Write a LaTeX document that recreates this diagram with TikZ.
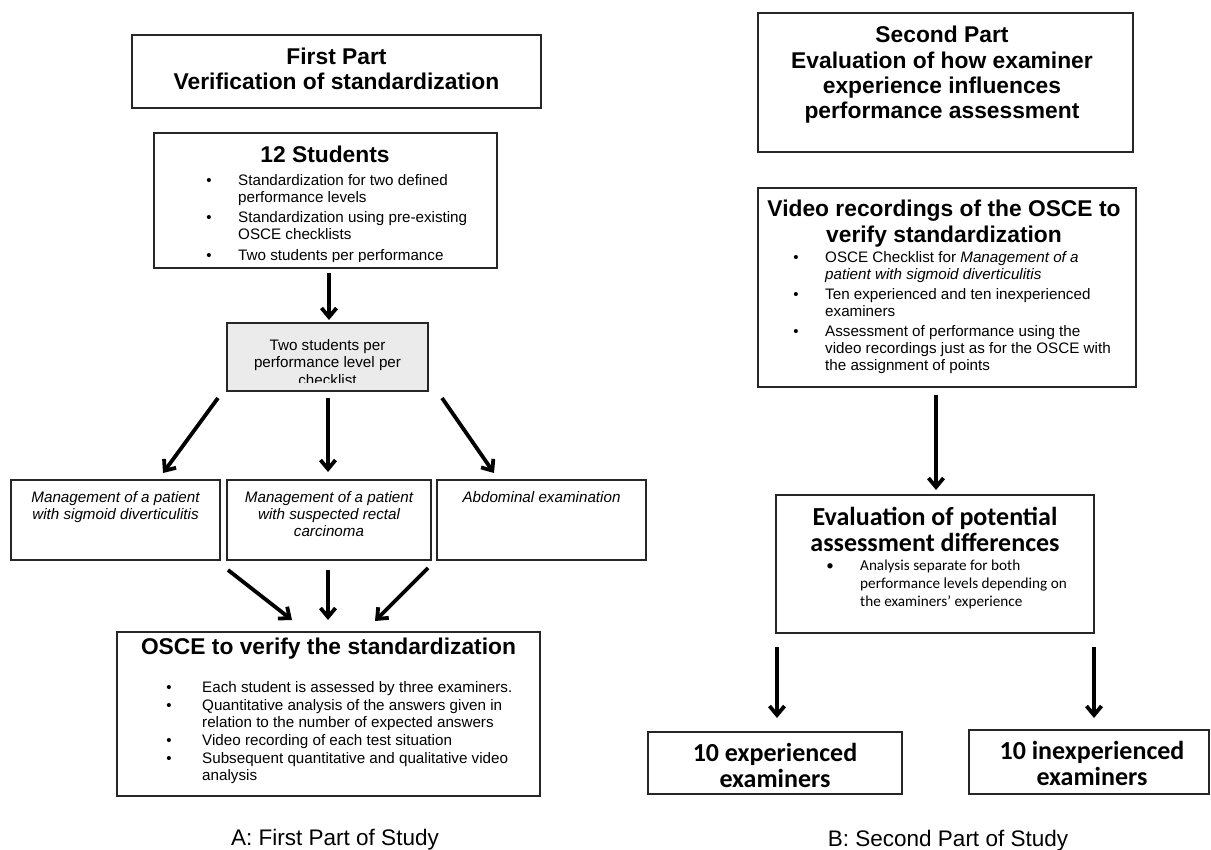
\documentclass[tikz,border=0pt]{standalone}
\usepackage{fontspec}
\setmainfont{Liberation Sans}
\newfontfamily\calfont{Carlito}
\usetikzlibrary{arrows.meta}
\tikzset{
  box/.style={draw=black!85, line width=1.3pt, fill=white, inner sep=0pt, outer sep=0pt, anchor=north west},
  greybox/.style={box, fill=black!8},
  arr/.style={line width=3.8pt, -{Straight Barb[length=9pt,width=15pt]}},
  ttl/.style={font=\bfseries\fontsize{22.8pt}{26pt}\selectfont, inner sep=0pt, anchor=base},
  ctl/.style={font=\calfont\bfseries\fontsize{26pt}{28pt}\selectfont, inner sep=0pt, anchor=base},
  txt/.style={font=\fontsize{15.2pt}{17pt}\selectfont, inner sep=0pt, anchor=base west},
  ctr/.style={font=\fontsize{15.2pt}{17pt}\selectfont, inner sep=0pt, anchor=base},
  ctxt/.style={font=\calfont\fontsize{15.2pt}{17pt}\selectfont, inner sep=0pt, anchor=base west},
  itx/.style={font=\itshape\fontsize{15.2pt}{17pt}\selectfont, inner sep=0pt, anchor=base},
  bul/.style={font=\fontsize{15pt}{17pt}\selectfont, inner sep=0pt, anchor=base},
  cbul/.style={font=\calfont\fontsize{15pt}{17pt}\selectfont, inner sep=0pt, anchor=base},
  capt/.style={font=\fontsize{22.5pt}{24pt}\selectfont, inner sep=0pt, anchor=base},
}
\begin{document}
\begin{tikzpicture}[x=1pt,y=-1pt]
\useasboundingbox (0,0) rectangle (1211,850);
% ---------------- Part A ----------------
\node[box, minimum width=409pt, minimum height=73pt] (a1) at (132,35) {};
\node[ttl] (a1l1) at (336.5,65) {First Part};
\node[ttl] (a1l2) at (336.5,90) {Verification of standardization};

\node[box, minimum width=343pt, minimum height=135pt] (a2) at (154,133) {};
\node[ttl] (a2t) at (325,163) {12 Students};
\begin{scope}
\clip (154,133) rectangle (497,262);
\node[bul] (a2b1) at (209,186) {\textbullet};
\node[txt] (a2x1) at (238,186) {Standardization for two defined};
\node[txt] (a2x2) at (238,203) {performance levels};
\node[bul] (a2b2) at (209,223) {\textbullet};
\node[txt] (a2x3) at (238,223) {Standardization using pre-existing};
\node[txt] (a2x4) at (238,240) {OSCE checklists};
\node[bul] (a2b3) at (209,261) {\textbullet};
\node[txt] (a2x5) at (238,261) {Two students per performance};
\end{scope}

\node[greybox, minimum width=201pt, minimum height=68pt] (gr) at (227,323) {};
\begin{scope}
\clip (227,323) rectangle (428,382.5);
\node[ctr] (grx1) at (327.5,351) {Two students per};
\node[ctr] (grx2) at (327.5,368) {performance level per};
\node[ctr] (grx3) at (327.5,386) {checklist};
\end{scope}

\node[box, minimum width=209pt, minimum height=80pt] (b1) at (11,480) {};
\node[itx] (b1x1) at (115.5,502) {Management of a patient};
\node[itx] (b1x2) at (115.5,519) {with sigmoid diverticulitis};

\node[box, minimum width=204pt, minimum height=80pt] (b2) at (227,480) {};
\node[itx] (b2x1) at (329,502) {Management of a patient};
\node[itx] (b2x2) at (329,519) {with suspected rectal};
\node[itx] (b2x3) at (329,536) {carcinoma};

\node[box, minimum width=209pt, minimum height=80pt] (b3) at (437,480) {};
\node[itx] (b3x1) at (541.5,502) {Abdominal examination};

\node[box, minimum width=423pt, minimum height=164pt] (os) at (117,632) {};
\node[ttl] (ost) at (328.5,654) {OSCE to verify the standardization};
\node[bul] (osb1) at (169,692) {\textbullet};
\node[txt] (osx1) at (202,692) {Each student is assessed by three examiners.};
\node[bul] (osb2) at (169,710) {\textbullet};
\node[txt] (osx2) at (202,710) {Quantitative analysis of the answers given in};
\node[txt] (osx3) at (202,727) {relation to the number of expected answers};
\node[bul] (osb3) at (169,745) {\textbullet};
\node[txt] (osx4) at (202,745) {Video recording of each test situation};
\node[bul] (osb4) at (169,763) {\textbullet};
\node[txt] (osx5) at (202,763) {Subsequent quantitative and qualitative video};
\node[txt] (osx6) at (202,780) {analysis};

\node[capt] (capA) at (335,845) {A: First Part of Study};

\draw[arr] ([xshift=3.5pt,yshift=-5pt]a2.south) -- ([xshift=1.5pt,yshift=3pt]gr.north);
\draw[arr] ([xshift=-9pt,yshift=-7pt]gr.south west) -- ([xshift=152pt,yshift=7pt]b1.north west);
\draw[arr] ([xshift=0.5pt,yshift=-7pt]gr.south) -- ([xshift=-1pt,yshift=8pt]b2.north);
\draw[arr] ([xshift=14pt,yshift=-7pt]gr.south east) -- ([xshift=57pt,yshift=7pt]b3.north west);
\draw[arr] ([xshift=8pt,yshift=-10pt]b1.south east) -- ([xshift=175pt,yshift=12pt]os.north west);
\draw[arr] ([xshift=-1pt,yshift=-10pt]b2.south) -- ([xshift=-0.5pt,yshift=12pt]os.north);
\draw[arr] ([xshift=-9pt,yshift=-8pt]b3.south west) -- ([xshift=46.5pt,yshift=11pt]os.north);

% ---------------- Part B ----------------
\node[box, minimum width=375pt, minimum height=139pt] (c1) at (758,13) {};
\node[ttl] (c1l1) at (942,43) {Second Part};
\node[ttl] (c1l2) at (942,69) {Evaluation of how examiner};
\node[ttl] (c1l3) at (942,94) {experience influences};
\node[ttl] (c1l4) at (942,119) {performance assessment};

\node[box, minimum width=378pt, minimum height=199pt] (c2) at (758,188) {};
\node[ttl] (c2l1) at (944,217) {Video recordings of the OSCE to};
\node[ttl] (c2l2) at (944,243) {verify standardization};
\node[bul] (c2b1) at (796,263) {\textbullet};
\node[txt] (c2x1) at (825,263) {OSCE Checklist for \textit{Management of a}};
\node[txt] (c2x2) at (825,280) {\textit{patient with sigmoid diverticulitis}};
\node[bul] (c2b2) at (796,300) {\textbullet};
\node[txt] (c2x3) at (825,300) {Ten experienced and ten inexperienced};
\node[txt] (c2x4) at (825,317) {examiners};
\node[bul] (c2b3) at (796,337) {\textbullet};
\node[txt] (c2x5) at (825,337) {Assessment of performance using the};
\node[txt] (c2x6) at (825,354) {video recordings just as for the OSCE with};
\node[txt] (c2x7) at (825,371) {the assignment of points};

\node[box, minimum width=318pt, minimum height=138pt] (c3) at (776,495) {};
\node[ctl] (c3l1) at (935,525) {Evaluation of potential};
\node[ctl] (c3l2) at (935,551) {assessment differences};
\node[cbul] (c3b1) at (830,570) {\textbullet};
\node[ctxt] (c3x1) at (860,570) {Analysis separate for both};
\node[ctxt] (c3x2) at (860,588) {performance levels depending on};
\node[ctxt] (c3x3) at (860,606) {the examiners’ experience};

\node[box, minimum width=254pt, minimum height=62pt] (c4) at (648,732) {};
\begin{scope}
\clip (648,732) rectangle (902,790);
\node[ctl] (c4l1) at (775,761) {10 experienced};
\node[ctl] (c4l2) at (775,787) {examiners};
\end{scope}

\node[box, minimum width=240pt, minimum height=64pt] (c5) at (969,730) {};
\node[ctl] (c5l1) at (1092,759) {10 inexperienced};
\node[ctl] (c5l2) at (1092,785) {examiners};

\node[capt] (capB) at (948,846) {B: Second Part of Study};

\draw[arr] ([xshift=-11pt,yshift=-8pt]c2.south) -- ([xshift=1pt,yshift=5pt]c3.north);
\draw[arr] ([xshift=1pt,yshift=-14pt]c3.south west) -- ([xshift=2pt,yshift=14pt]c4.north);
\draw[arr] ([xshift=0pt,yshift=-14pt]c3.south east) -- ([xshift=5pt,yshift=12pt]c5.north);
\end{tikzpicture}
\end{document}
